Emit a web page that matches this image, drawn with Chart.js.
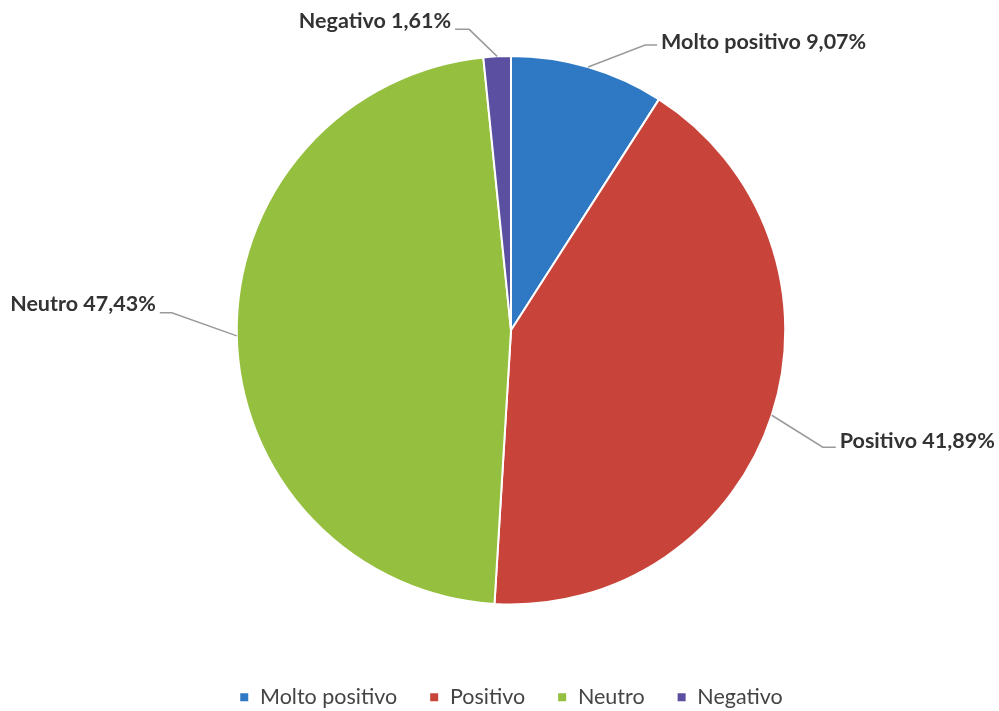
<!DOCTYPE html>
<html>
<head>
<meta charset="utf-8">
<script src="https://cdn.jsdelivr.net/npm/chart.js@4/dist/chart.umd.min.js"></script>
<style>
html,body{margin:0;padding:0;background:#fff;}
#wrap{width:999px;height:711px;position:relative;}
</style>
</head>
<body>
<div id="wrap"><canvas id="c" width="999" height="711"></canvas></div>
<script>
const categories = ["Molto positivo", "Positivo", "Neutro", "Negativo"];
const values = [9.07, 41.89, 47.43, 1.61];
const valueLabels = ["9,07%", "41,89%", "47,43%", "1,61%"];
const colors = ["#2f78c4", "#c8443a", "#95bf3e", "#5a4fa0"];

// leader line styling: elbow offset from slice edge, horizontal run, side
const leaderStyle = [
  {dx: 57, dy: -22, run: 12, side: 1, ty: -3},
  {dx: 51, dy: 32, run: 13, side: 1, ty: -6},
  {dx: -65, dy: -23, run: 12, side: -1, ty: -9},
  {dx: -28, dy: -27, run: 14, side: -1, ty: -8}
];

const labelPlugin = {
  id: 'outLabels',
  afterDatasetsDraw(chart) {
    const ctx = chart.ctx;
    const meta = chart.getDatasetMeta(0);
    meta.data.forEach((arc, i) => {
      const p = arc.getProps(['x','y','startAngle','endAngle','outerRadius'], true);
      const mid = (p.startAngle + p.endAngle) / 2;
      const ax = p.x + Math.cos(mid) * p.outerRadius;
      const ay = p.y + Math.sin(mid) * p.outerRadius;
      const s = leaderStyle[i];
      const ex = ax + s.dx, ey = ay + s.dy;
      const hx = ex + s.side * s.run;
      ctx.save();
      ctx.strokeStyle = '#9a9a9a';
      ctx.lineWidth = 1.5;
      ctx.beginPath();
      ctx.moveTo(ax, ay);
      ctx.lineTo(ex, ey);
      ctx.lineTo(hx, ey);
      ctx.stroke();
      ctx.fillStyle = '#333';
      ctx.font = 'bold 21.5px Lato';
      ctx.textBaseline = 'middle';
      ctx.textAlign = s.side > 0 ? 'left' : 'right';
      ctx.fillText(categories[i] + ' ' + valueLabels[i], hx + s.side * 4, ey + s.ty);
      ctx.restore();
    });
  }
};

new Chart(document.getElementById('c'), {
  type: 'pie',
  data: {
    labels: categories,
    datasets: [{
      data: values,
      backgroundColor: colors,
      borderColor: '#ffffff',
      borderWidth: 2
    }]
  },
  options: {
    responsive: false,
    animation: false,
    layout: {padding: {top: 55, left: 23, right: 0, bottom: -7}},
    plugins: {
      tooltip: {enabled: false},
      legend: {
        position: 'bottom',
        title: {display: true, text: ' ', font: {size: 10}, padding: {top: 37, bottom: 0}},
        labels: {
          boxWidth: 10,
          boxHeight: 10,
          padding: 32,
          color: '#444',
          font: {family: 'Lato', size: 21.5}
        }
      }
    }
  },
  plugins: [labelPlugin]
});
</script>
</body>
</html>
